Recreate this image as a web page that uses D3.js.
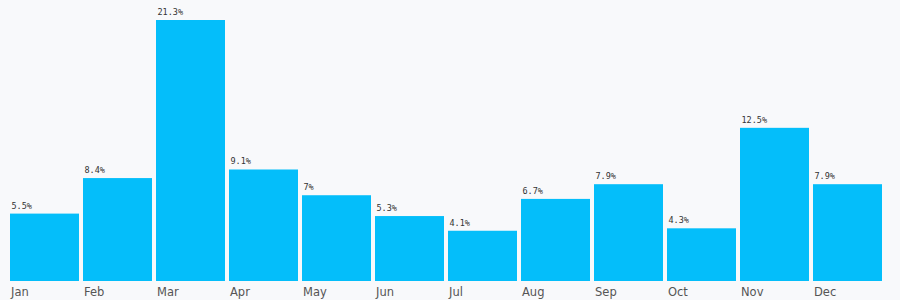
<!DOCTYPE html>
<html>
<head>
<meta charset="utf-8">
<script src="https://cdn.jsdelivr.net/npm/d3@7"></script>
<style>
  html, body { margin: 0; padding: 0; background: #f8f9fb; }
  svg { display: block; }
</style>
</head>
<body>
<svg id="chart" width="900" height="300"></svg>
<script>
const months = ["Jan","Feb","Mar","Apr","May","Jun","Jul","Aug","Sep","Oct","Nov","Dec"];
const values = [5.5, 8.4, 21.3, 9.1, 7, 5.3, 4.1, 6.7, 7.9, 4.3, 12.5, 7.9];
const labels = ["5.5%","8.4%","21.3%","9.1%","7%","5.3%","4.1%","6.7%","7.9%","4.3%","12.5%","7.9%"];

const svg = d3.select("#chart");
svg.append("rect").attr("width", 900).attr("height", 300).attr("fill", "#f8f9fb");

const x = d3.scaleBand().domain(months).range([10, 882]).paddingInner(4/73).paddingOuter(0);
const y = d3.scaleLinear().domain([0, d3.max(values)]).range([281, 20]);

const g = svg.append("g");
g.selectAll("rect.bar").data(months).join("rect")
  .attr("class", "bar")
  .attr("x", d => x(d))
  .attr("width", x.bandwidth())
  .attr("y", (d, i) => y(values[i]))
  .attr("height", (d, i) => y(0) - y(values[i]))
  .attr("fill", "#04befa");

g.selectAll("text.val").data(months).join("text")
  .attr("class", "val")
  .attr("x", d => x(d) + 1.5)
  .attr("y", (d, i) => y(values[i]) - 5)
  .attr("font-family", "DejaVu Sans Mono, monospace")
  .attr("font-size", "8.5px")
  .attr("fill", "#333")
  .text((d, i) => labels[i]);

const axis = d3.axisBottom(x).tickSize(0).tickPadding(0);
const ag = svg.append("g").attr("transform", "translate(0,286)").call(axis);
ag.select(".domain").remove();
ag.selectAll("text")
  .attr("text-anchor", "start")
  .attr("x", -x.bandwidth() / 2 + 1)
  .attr("dy", "0.85em")
  .attr("y", 0)
  .attr("font-family", "DejaVu Sans, sans-serif")
  .attr("font-size", "11.5px")
  .attr("fill", "#555");
</script>
</body>
</html>
